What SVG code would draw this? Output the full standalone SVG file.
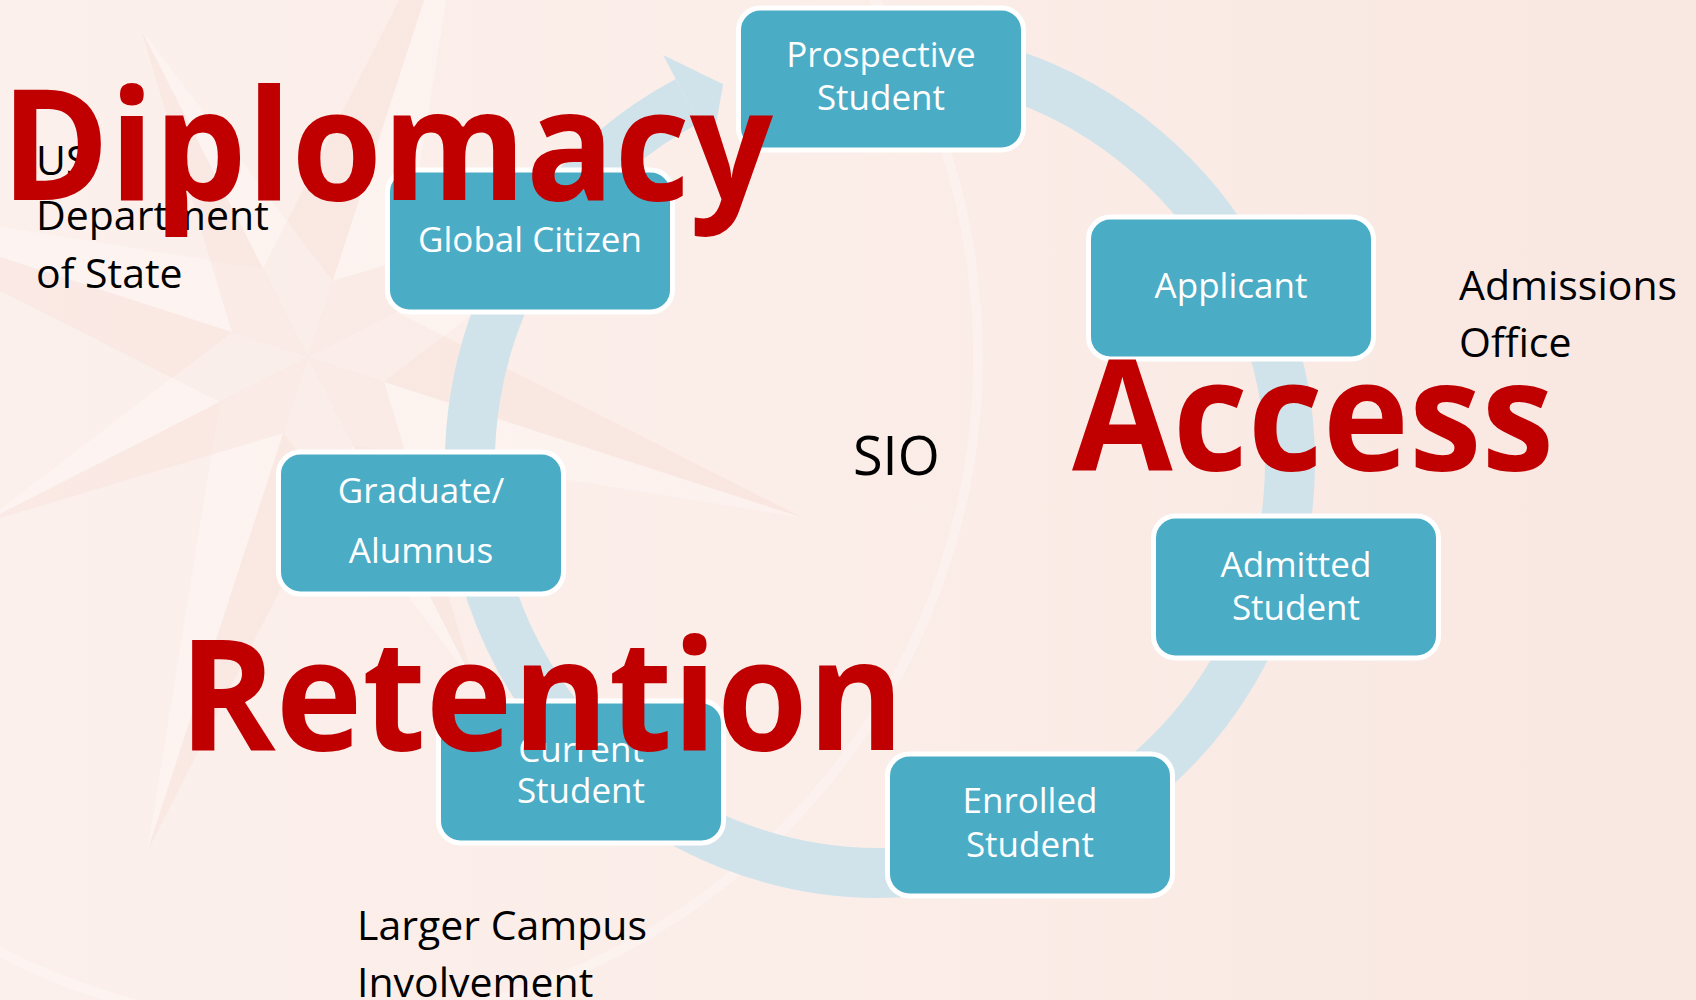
<svg xmlns="http://www.w3.org/2000/svg" width="1696" height="1000" viewBox="0 0 1696 1000">
  <defs>
    <linearGradient id="bg" x1="0" y1="0" x2="1" y2="0">
      <stop offset="0" stop-color="#FCF0EC"/>
      <stop offset="0.5" stop-color="#FBEDE8"/>
      <stop offset="1" stop-color="#F9E7E1"/>
    </linearGradient>
    <style>
      .node rect { fill: #4BACC6; stroke: #FFFFFF; stroke-width: 5; }
      .node text { fill: #FFFFFF; font-family: "Open Sans", "Noto Sans", sans-serif; font-size: 35px; text-anchor: middle; }
      .side { fill: #000000; font-family: "Open Sans", "Noto Sans", sans-serif; font-size: 41px; }
      .big { fill: #C00000; font-family: "Open Sans", "Noto Sans", sans-serif; font-weight: bold; font-size: 155px; }
      .dark { fill: #F4D3CB; opacity: 0.25; }
      .light { fill: #FFFFFF; opacity: 0.25; }
    </style>
  </defs>

  <rect x="0" y="0" width="1696" height="1000" fill="url(#bg)"/>

  <g id="compass" transform="translate(308 357) rotate(18)">
    <circle cx="0" cy="0" r="670" fill="none" stroke="#FFFFFF" stroke-width="10" opacity="0.25"/>
    <polygon class="dark" points="0,0 520,0 70,-70"/>
    <polygon class="light" points="0,0 520,0 70,70"/>
    <polygon class="dark" points="0,0 0,520 70,70"/>
    <polygon class="light" points="0,0 0,520 -70,70"/>
    <polygon class="dark" points="0,0 -520,0 -70,70"/>
    <polygon class="light" points="0,0 -520,0 -70,-70"/>
    <polygon class="dark" points="0,0 0,-520 -70,-70"/>
    <polygon class="light" points="0,0 0,-520 70,-70"/>
    <polygon class="dark" points="0,0 260,260 80,0"/>
    <polygon class="light" points="0,0 260,260 0,80"/>
    <polygon class="dark" points="0,0 -260,260 0,80"/>
    <polygon class="light" points="0,0 -260,260 -80,0"/>
    <polygon class="dark" points="0,0 -260,-260 -80,0"/>
    <polygon class="light" points="0,0 -260,-260 0,-80"/>
    <polygon class="dark" points="0,0 260,-260 0,-80"/>
    <polygon class="light" points="0,0 260,-260 80,0"/>
  </g>

  <g id="connectors">
    <path d="M 986.1 67 A 410 410 0 1 1 687.5 101" fill="none" stroke="#D0E3EA" stroke-width="50"/>
    <polygon points="663.1,55.1 723.1,84.2 711.9,146.9" fill="#D0E3EA"/>
  </g>

  <g id="node-prospective" class="node">
    <rect x="738.5" y="8" width="285" height="142" rx="22"/>
    <text x="881" y="67">Prospective</text>
    <text x="881" y="110">Student</text>
  </g>
  <g id="node-applicant" class="node">
    <rect x="1088.5" y="217" width="285" height="142" rx="22"/>
    <text x="1231" y="298">Applicant</text>
  </g>
  <g id="node-admitted" class="node">
    <rect x="1153.5" y="516" width="285" height="142" rx="22"/>
    <text x="1296" y="577">Admitted</text>
    <text x="1296" y="620">Student</text>
  </g>
  <g id="node-enrolled" class="node">
    <rect x="887.5" y="754" width="285" height="142" rx="22"/>
    <text x="1030" y="813">Enrolled</text>
    <text x="1030" y="857">Student</text>
  </g>
  <g id="node-current" class="node">
    <rect x="438.5" y="701" width="285" height="142" rx="22"/>
    <text x="581" y="762">Current</text>
    <text x="581" y="803">Student</text>
  </g>
  <g id="node-graduate" class="node">
    <rect x="278.5" y="452" width="285" height="142" rx="22"/>
    <text x="421" y="503">Graduate/</text>
    <text x="421" y="563">Alumnus</text>
  </g>
  <g id="node-global" class="node">
    <rect x="387.5" y="170" width="285" height="142" rx="22"/>
    <text x="530" y="252">Global Citizen</text>
  </g>

  <g id="labels">
    <text class="side" x="36" y="175">US</text>
    <text class="side" x="36" y="230">Department</text>
    <text class="side" x="36" y="288">of State</text>
    <text class="side" x="1459" y="300">Admissions</text>
    <text class="side" x="1459" y="357">Office</text>
    <text class="side" x="853" y="475" style="font-size:54px">SIO</text>
    <text class="side" x="357" y="940">Larger Campus</text>
    <text class="side" x="357" y="997">Involvement</text>
  </g>

  <g id="themes">
    <text class="big" x="1" y="200" textLength="772" lengthAdjust="spacingAndGlyphs">Diplomacy</text>
    <text class="big" x="1072" y="470" textLength="482" lengthAdjust="spacingAndGlyphs">Access</text>
    <text class="big" x="179" y="750" textLength="725" lengthAdjust="spacingAndGlyphs">Retention</text>
  </g>
</svg>
